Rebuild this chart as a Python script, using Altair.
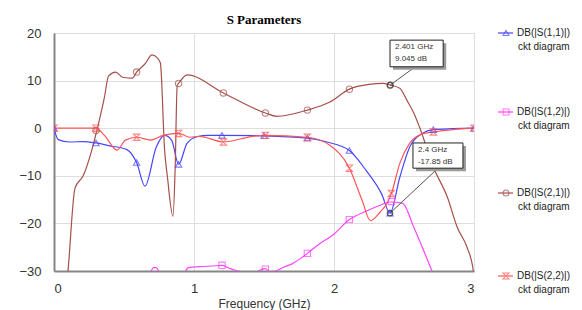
import altair as alt
import pandas as pd

# ---------------- data ----------------
series_names = ["DB(|S(1,1)|)", "DB(|S(1,2)|)", "DB(|S(2,1)|)", "DB(|S(2,2)|)"]
colors = ["#4646ff", "#ff44ff", "#a5504b", "#ff5555"]
shapes = ["triangle-up", "square", "circle", "M-1,-1L1,-1L-1,1L1,1Z"]

# S11 (blue)
f11 = [0, 0.03, 0.11, 0.21, 0.30, 0.40, 0.52, 0.59, 0.65, 0.73, 0.79, 0.84, 0.89, 0.95, 1.02, 1.10, 1.20,
       1.50, 1.81, 1.95, 2.11, 2.23, 2.34, 2.40, 2.47, 2.54, 2.63, 2.71, 2.85, 3.00]
s11 = [0, -2.4, -2.9, -2.8, -3.1, -3.7, -4.5, -7.2, -12.2, -4.0, -1.5, -2.5, -7.6, -3.2, -1.8, -1.5, -1.5,
       -1.6, -2.1, -2.9, -4.7, -8.9, -13.8, -17.85, -10.3, -4.0, -1.1, -0.3, -0.1, 0]

# S12 (magenta)
f12 = [0.60, 0.69, 0.71, 0.73, 0.75, 0.80, 0.90, 0.93, 0.96, 1.04, 1.16, 1.20, 1.26, 1.34, 1.42, 1.48, 1.51,
       1.54, 1.58, 1.64, 1.70, 1.76, 1.81, 1.90, 1.99, 2.11, 2.24, 2.33, 2.40, 2.49, 2.57, 2.64, 2.70, 2.74]
s12 = [-33, -30.2, -29.3, -29.3, -30.2, -33, -32, -30.5, -29.3, -29.1, -28.9, -28.8, -29.5, -30.2, -30.6,
       -29.7, -29.5, -30.1, -30.0, -29.2, -28.5, -27.4, -26.3, -24.2, -22.5, -19.2, -17.3, -16.2, -15.5,
       -15.8, -20.8, -25.7, -30, -33]

# S21 (brown)
f21 = [0.09, 0.10, 0.15, 0.21, 0.27, 0.31, 0.36, 0.39, 0.44, 0.49, 0.56, 0.59, 0.65, 0.70, 0.74, 0.76,
       0.79, 0.81, 0.85, 0.865, 0.88, 0.89, 0.95, 1.21, 1.51, 1.59, 1.81, 1.97, 2.11, 2.25, 2.35, 2.401,
       2.47, 2.52, 2.57, 2.61, 2.71, 2.81, 2.88, 2.95, 2.99, 3.0]
s21 = [-33, -30, -12.6, -9.9, -4.6, 0, 6.5, 11.0, 11.8, 10.7, 10.5, 11.8, 13.5, 15.4, 14.7, 13.7,
       -4.6, -10.2, -18.5, -8.9, 9.0, 9.4, 11.2, 7.4, 3.2, 2.5, 3.8, 5.5, 8.2, 9.2, 9.4, 9.045,
       8.4, 5.9, 3.2, 0.3, -8.2, -14.5, -20.8, -25.0, -29.0, -31]

# S22 (red)
f22 = [0, 0.30, 0.36, 0.45, 0.51, 0.59, 0.69, 0.78, 0.89, 0.97, 1.04, 1.21, 1.42, 1.51, 1.81, 1.97, 2.11,
       2.20, 2.26, 2.33, 2.38, 2.41, 2.47, 2.54, 2.63, 2.71, 2.85, 3.0]
s22 = [0, 0, -1.5, -4.6, -2.5, -1.9, -2.5, -1.5, -1.1, -1.9, -1.7, -2.9, -1.7, -1.5, -1.9, -3.6, -8.4,
       -15.1, -19.4, -17.6, -15.7, -13.7, -7.4, -3.2, -1.2, -0.8, -0.3, 0]

# marker positions
m11_f = [0, 0.30, 0.59, 0.89, 1.20, 1.50, 1.81, 2.11, 2.40, 2.71, 3.0]
m11_v = [0, -3.1, -7.2, -7.6, -1.5, -1.6, -2.1, -4.7, -17.85, -0.3, 0]
m12_f = [1.20, 1.51, 1.81, 2.11, 2.41]
m12_v = [-28.8, -29.6, -26.3, -19.2, -15.4]
m21_f = [0.30, 0.59, 0.89, 1.21, 1.51, 1.81, 2.11, 2.401]
m21_v = [-0.5, 11.8, 9.4, 7.4, 3.2, 3.8, 8.2, 9.045]
m22_f = [0, 0.30, 0.59, 0.89, 1.21, 1.51, 1.81, 2.11, 2.41, 2.71, 3.0]
m22_v = [0, 0, -1.9, -1.1, -2.9, -1.5, -1.9, -8.4, -13.7, -0.8, 0]

# marker readouts
ann_f = [2.401, 2.4]
ann_v = [9.045, -17.85]
ann_line1 = ["2.401 GHz", "2.4 GHz"]
ann_line2 = ["9.045 dB", "-17.85 dB"]
box_f1 = [2.40, 2.564]
box_f2 = [2.78, 2.921]
box_v1 = [18.5, -3.1]
box_v2 = [12.9, -8.4]
lead_f = [2.58, 2.736]
lead_v = [12.9, -8.6]

x_ticks = [0, 1, 2, 3]
y_ticks = [-30, -20, -10, 0, 10, 20]

# ---------------- tables ----------------
curves = pd.concat([
    pd.DataFrame({"f": f, "dB": v, "s": n})
    for f, v, n in zip([f11, f12, f21, f22], [s11, s12, s21, s22], series_names)
])
marks = pd.concat([
    pd.DataFrame({"f": f, "dB": v, "s": n})
    for f, v, n in zip([m11_f, m12_f, m21_f, m22_f], [m11_v, m12_v, m21_v, m22_v], series_names)
])
ann = pd.DataFrame({"f": ann_f, "dB": ann_v, "l1": ann_line1, "l2": ann_line2,
                    "bf1": box_f1, "bf2": box_f2, "bv1": box_v1, "bv2": box_v2,
                    "lf": lead_f, "lv": lead_v})

FONT = "Liberation Sans"
xs = alt.Scale(domain=[0, 3], nice=False, zero=False)
ys = alt.Scale(domain=[-30, 20], nice=False, zero=False)
X = alt.X("f:Q", scale=xs, axis=alt.Axis(values=x_ticks, format="d", title="Frequency (GHz)",
                                           labelPadding=11, titlePadding=3, titleFont=FONT,
                                           titleFontSize=12, titleFontWeight="normal",
                                           titleColor="#333"))
Y = alt.Y("dB:Q", scale=ys, axis=alt.Axis(values=y_ticks, format="d", title=None, labelPadding=13))
col = alt.Color("s:N", scale=alt.Scale(domain=series_names, range=colors), legend=None)
shp = alt.Shape("s:N", scale=alt.Scale(domain=series_names, range=shapes), legend=None)

lines = alt.Chart(curves).mark_line(clip=True, strokeWidth=1.2, interpolate="monotone").encode(
    x=X, y=Y, color=col, detail="s:N")
points = alt.Chart(marks).mark_point(clip=True, filled=False, size=40, strokeWidth=1.1).encode(
    x=X, y=Y, color=col, shape=shp)

ann_base = alt.Chart(ann)
leaders = ann_base.mark_rule(color="#555555", strokeWidth=1).encode(
    x=alt.X("lf:Q", scale=xs), y=alt.Y("lv:Q", scale=ys), x2="f:Q", y2="dB:Q")
ann_pts = ann_base.mark_point(filled=False, size=30, color="#222222", strokeWidth=1.2).encode(x=X, y=Y)
shadow = ann_base.mark_rect(fill="#9a9a9a", xOffset=3, x2Offset=3, yOffset=3, y2Offset=3).encode(
    x=alt.X("bf1:Q", scale=xs), x2="bf2:Q", y=alt.Y("bv1:Q", scale=ys), y2="bv2:Q")
boxes = ann_base.mark_rect(fill="white", stroke="#222222", strokeWidth=1).encode(
    x=alt.X("bf1:Q", scale=xs), x2="bf2:Q", y=alt.Y("bv1:Q", scale=ys), y2="bv2:Q")
t1 = ann_base.mark_text(align="left", baseline="middle", font=FONT, fontSize=8, color="#333",
                        dx=5, dy=7).encode(
    x=alt.X("bf1:Q", scale=xs), y=alt.Y("bv1:Q", scale=ys), text="l1:N")
t2 = ann_base.mark_text(align="left", baseline="middle", font=FONT, fontSize=8, color="#333",
                        dx=5, dy=19).encode(
    x=alt.X("bf1:Q", scale=xs), y=alt.Y("bv1:Q", scale=ys), text="l2:N")

# custom legend at the right
one = pd.DataFrame({"a": [0]})
legend_layers = []
legend_y = [0, 79, 160, 243]
for name, c, sh, yy in zip(series_names, colors, shapes, legend_y):
    b = alt.Chart(one)
    legend_layers.append(b.mark_rule(color=c, strokeWidth=1.2).encode(
        x=alt.value(444), x2=alt.value(459), y=alt.value(yy)))
    legend_layers.append(b.mark_point(color=c, shape=sh, filled=False, size=35, strokeWidth=1.1).encode(
        x=alt.value(452), y=alt.value(yy)))
    legend_layers.append(b.mark_text(align="left", baseline="middle", font=FONT, fontSize=10,
                                     color="#222").encode(
        x=alt.value(463), y=alt.value(yy), text=alt.value(name)))
    legend_layers.append(b.mark_text(align="left", baseline="middle", font=FONT, fontSize=10,
                                     color="#222").encode(
        x=alt.value(464), y=alt.value(yy + 14), text=alt.value("ckt diagram")))

chart = alt.layer(lines, points, leaders, shadow, boxes, t1, t2, ann_pts, *legend_layers).properties(
    width=420, height=238,
    title=alt.TitleParams("S Parameters", font="Liberation Serif", fontSize=13, fontWeight="bold",
                          color="#000", offset=0, anchor="middle"),
    autosize=alt.AutoSizeParams(type="none"),
    padding={"left": 46, "top": 25, "right": 100, "bottom": 39},
).configure_view(stroke="#a8a8a8", strokeWidth=1).configure_axis(
    labelFont=FONT, labelFontSize=13, labelColor="#333", gridColor="#dedede", gridWidth=1,
    domainColor="#858585", domainWidth=2, ticks=False,
)

chart.save("out.html", embed_options={"renderer": "svg", "actions": False})
